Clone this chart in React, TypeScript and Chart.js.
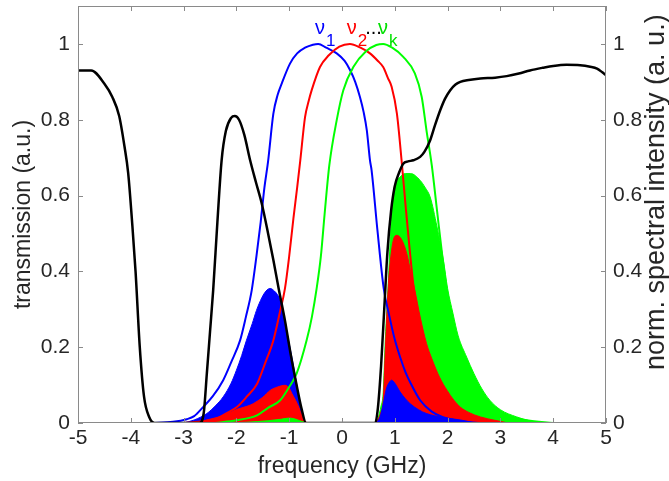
import React, { useEffect, useRef } from 'react';
import { Chart, registerables } from 'chart.js';

Chart.register(...registerables);

// ---------- tick labels ----------
const xTicks = [-5, -4, -3, -2, -1, 0, 1, 2, 3, 4, 5];
const yTicks = [0, 0.2, 0.4, 0.6, 0.8, 1];

// ---------- transmission (black) ----------
const transX = [-5.0, -4.75, -4.5, -4.35, -4.22, -4.12, -4.05, -3.97, -3.91, -3.83, -3.75, -3.65, -3.55,
  -2.7, -2.62, -2.56, -2.5, -2.44, -2.36, -2.28, -2.2, -2.1, -2.03, -1.95, -1.85, -1.74, -1.63, -1.52,
  -1.4, -1.3, -1.2, -1.08, -0.97, -0.86, -0.77, -0.68,
  0.63, 0.68, 0.74, 0.8, 0.86, 0.93, 1.0, 1.08, 1.16, 1.25, 1.35, 1.48, 1.56, 1.67, 1.76, 1.86, 1.95,
  2.05, 2.15, 2.24, 2.4, 2.62, 2.9, 3.12, 3.35, 3.56, 3.8, 4.0, 4.25, 4.51, 4.7, 4.83, 4.93, 5.0];
const transY = [0.93, 0.93, 0.895, 0.86, 0.81, 0.73, 0.66, 0.52, 0.4, 0.2, 0.07, 0.015, 0.0,
  0.0, 0.025, 0.13, 0.24, 0.35, 0.53, 0.693, 0.77, 0.805, 0.81, 0.8, 0.76, 0.693, 0.635, 0.579,
  0.5, 0.43, 0.355, 0.27, 0.18, 0.1, 0.04, 0.0,
  0.0, 0.04, 0.15, 0.3, 0.45, 0.56, 0.625, 0.66, 0.684, 0.69, 0.693, 0.702, 0.715, 0.746, 0.785, 0.825, 0.855,
  0.878, 0.893, 0.9, 0.905, 0.909, 0.911, 0.915, 0.922, 0.93, 0.937, 0.942, 0.945, 0.944, 0.94, 0.935, 0.925, 0.917];

// ---------- filter curves ----------
const nu1X = [-3.6, -3.2, -2.94, -2.8, -2.63, -2.45, -2.25, -2.1, -1.93, -1.82, -1.71, -1.62, -1.54, -1.47, -1.4,
  -1.3, -1.22, -1.14, -0.985, -0.85, -0.7, -0.55, -0.45, -0.3, -0.1, 0.05, 0.152, 0.25, 0.34, 0.41, 0.47, 0.53,
  0.56, 0.67, 0.79, 0.9, 1.0, 1.1, 1.2, 1.3, 1.48, 1.7, 1.9, 2.2, 2.6];
const nu1Y = [0.0, 0.003, 0.01, 0.018, 0.042, 0.07, 0.113, 0.16, 0.218, 0.28, 0.35, 0.44, 0.53, 0.62, 0.69,
  0.816, 0.865, 0.896, 0.948, 0.975, 0.99, 0.998, 1.0, 0.99, 0.975, 0.955, 0.931, 0.9, 0.86, 0.82, 0.772, 0.693,
  0.667, 0.51, 0.355, 0.28, 0.22, 0.174, 0.135, 0.105, 0.06, 0.03, 0.016, 0.005, 0.0];

const nu2X = [-3.0, -2.6, -2.4, -2.2, -1.99, -1.8, -1.61, -1.45, -1.3, -1.18, -1.08, -1.0, -0.92, -0.85, -0.79,
  -0.7, -0.63, -0.574, -0.417, -0.25, -0.05, 0.15, 0.35, 0.53, 0.68, 0.78, 0.87, 0.94, 1.04, 1.13, 1.2, 1.28,
  1.36, 1.48, 1.6, 1.75, 1.92, 2.1, 2.3, 2.6, 3.0];
const nu2Y = [0.0, 0.005, 0.01, 0.025, 0.042, 0.07, 0.103, 0.16, 0.218, 0.29, 0.355, 0.44, 0.54, 0.62, 0.693,
  0.807, 0.85, 0.878, 0.939, 0.97, 0.993, 1.0, 0.99, 0.975, 0.955, 0.939, 0.91, 0.887, 0.816, 0.69, 0.58, 0.46,
  0.355, 0.26, 0.174, 0.11, 0.06, 0.035, 0.016, 0.006, 0.0];

const nuKX = [-2.4, -2.0, -1.61, -1.4, -1.17, -1.0, -0.86, -0.67, -0.57, -0.48, -0.4, -0.33, -0.24, -0.1, 0.025,
  0.214, 0.45, 0.65, 0.78, 0.95, 1.16, 1.38, 1.51, 1.6, 1.7, 1.8, 1.9, 1.98, 2.07, 2.17, 2.36, 2.5, 2.67,
  2.9, 3.11, 3.5, 4.0];
const nuKY = [0.0, 0.007, 0.02, 0.04, 0.06, 0.095, 0.13, 0.218, 0.28, 0.355, 0.44, 0.55, 0.68, 0.799, 0.878,
  0.939, 0.98, 0.997, 1.0, 0.99, 0.966, 0.922, 0.86, 0.772, 0.68, 0.56, 0.44, 0.355, 0.28, 0.218, 0.13, 0.09, 0.06,
  0.035, 0.02, 0.007, 0.0];

// ---------- filled spectra (left group) ----------
const blueLX = [-3.0, -2.8, -2.56, -2.4, -2.25, -2.1, -2.0, -1.9, -1.81, -1.7, -1.62, -1.52, -1.44, -1.36, -1.28,
  -1.22, -1.17, -1.1, -1.05, -0.95, -0.86, -0.79, -0.73, -0.7];
const blueLY = [0.0, 0.008, 0.025, 0.045, 0.069, 0.105, 0.139, 0.178, 0.218, 0.262, 0.297, 0.33, 0.348, 0.355, 0.348,
  0.338, 0.324, 0.285, 0.245, 0.174, 0.104, 0.045, 0.01, 0.0];
const redLX = [-2.9, -2.7, -2.5, -2.2, -1.99, -1.8, -1.68, -1.5, -1.36, -1.22, -1.08, -1.0, -0.95, -0.88, -0.82,
  -0.76, -0.7, -0.65];
const redLY = [0.0, 0.004, 0.01, 0.022, 0.036, 0.044, 0.051, 0.068, 0.086, 0.095, 0.0995, 0.092, 0.078, 0.06, 0.042,
  0.02, 0.005, 0.0];
const greenLX = [-2.2, -1.8, -1.4, -1.15, -1.0, -0.9, -0.8, -0.7, -0.6];
const greenLY = [0.0, 0.002, 0.006, 0.01, 0.013, 0.011, 0.006, 0.002, 0.0];

// ---------- filled spectra (right group) ----------
const blueRX = [0.62, 0.68, 0.72, 0.78, 0.84, 0.9, 0.94, 1.0, 1.1, 1.2, 1.29, 1.45, 1.6, 1.9, 2.24, 2.53];
const blueRY = [0.0, 0.006, 0.016, 0.05, 0.09, 0.108, 0.113, 0.105, 0.082, 0.064, 0.051, 0.035, 0.025, 0.015, 0.008, 0.0];
const redRX = [0.62, 0.68, 0.74, 0.78, 0.82, 0.88, 0.94, 0.99, 1.04, 1.1, 1.16, 1.23, 1.3, 1.38, 1.48, 1.6, 1.7,
  1.85, 1.99, 2.12, 2.24, 2.4, 2.62, 2.9, 3.15];
const redRY = [0.0, 0.01, 0.03, 0.06, 0.19, 0.368, 0.456, 0.49, 0.495, 0.49, 0.475, 0.445, 0.4, 0.35, 0.28, 0.21, 0.17,
  0.12, 0.086, 0.06, 0.042, 0.028, 0.016, 0.007, 0.0];
const greenRX = [0.62, 0.68, 0.74, 0.78, 0.82, 0.85, 0.88, 0.91, 0.97, 1.03, 1.1, 1.2, 1.3, 1.48, 1.58, 1.67, 1.8,
  1.92, 2.0, 2.1, 2.2, 2.36, 2.5, 2.65, 2.8, 3.0, 3.31, 3.55, 3.75];
const greenRY = [0.0, 0.012, 0.045, 0.08, 0.22, 0.3, 0.38, 0.473, 0.605, 0.635, 0.649, 0.658, 0.658, 0.64, 0.62, 0.596, 0.517,
  0.43, 0.355, 0.29, 0.23, 0.174, 0.13, 0.09, 0.06, 0.035, 0.016, 0.006, 0.0];

// ---------- annotations ----------
const nuNames = ['\u03BD', '\u03BD', '\u03BD'];
const nuSubs = ['1', '2', 'k'];
const nuX = [-0.51, 0.09, 0.684];
const nuY = 1.027;
const nuColors = ['#0000ff', '#ff0000', '#00e000'];
const dotsX = 0.44;

const FONT = "'Liberation Sans', Arial, Helvetica, sans-serif";
const TEXT = '#262626';
const AXIS = '#8a8a8a';

const pts = (xs: number[], ys: number[]) => xs.map((x, i) => ({ x, y: ys[i] }));

const lineDs = (label: string, xs: number[], ys: number[], color: string, width: number, order: number) => ({
  type: 'line', label, data: pts(xs, ys), borderColor: color, borderWidth: width, pointRadius: 0,
  fill: false, cubicInterpolationMode: 'monotone', order, yAxisID: 'y',
});
const fillDs = (label: string, xs: number[], ys: number[], color: string, order: number) => ({
  type: 'line', label, data: pts(xs, ys), borderColor: color, backgroundColor: color, borderWidth: 1,
  pointRadius: 0, fill: 'origin', cubicInterpolationMode: 'monotone', order, yAxisID: 'y2',
});

const zeroPad = (s: any) => { s.paddingTop = 0; s.paddingBottom = 0; s.paddingLeft = 0; s.paddingRight = 0; };

const boxPlugin = {
  id: 'boxTicks',
  afterDatasetsDraw(chart: any) {
    const { ctx, chartArea } = chart;
    const { left, right, top, bottom } = chartArea;
    const xs = chart.scales.x;
    const ys = chart.scales.y;
    ctx.save();
    ctx.strokeStyle = AXIS;
    ctx.lineWidth = 1;
    ctx.strokeRect(left + 0.5, top + 0.5, right - left - 1, bottom - top - 1);
    ctx.beginPath();
    xTicks.forEach((v) => {
      const px = Math.round(xs.getPixelForValue(v)) + 0.5;
      ctx.moveTo(px, bottom); ctx.lineTo(px, bottom - 5);
      ctx.moveTo(px, top); ctx.lineTo(px, top + 5);
    });
    yTicks.forEach((v) => {
      const py = Math.round(ys.getPixelForValue(v)) + 0.5;
      ctx.moveTo(left, py); ctx.lineTo(left + 5, py);
      ctx.moveTo(right, py); ctx.lineTo(right - 5, py);
    });
    ctx.stroke();
    ctx.restore();
  },
  afterDraw(chart: any) {
    const { ctx, chartArea } = chart;
    const xs = chart.scales.x;
    const ys = chart.scales.y;
    ctx.save();
    ctx.textBaseline = 'alphabetic';
    ctx.textAlign = 'left';
    nuX.forEach((v, i) => {
      const px = xs.getPixelForValue(v);
      const py = ys.getPixelForValue(nuY);
      ctx.fillStyle = nuColors[i];
      ctx.font = `20px ${FONT}`;
      ctx.fillText(nuNames[i], px, py);
      const w = ctx.measureText(nuNames[i]).width;
      ctx.font = `17px ${FONT}`;
      ctx.fillText(nuSubs[i], px + w + 1, py + 12);
    });
    ctx.fillStyle = '#000';
    ctx.font = `20px ${FONT}`;
    ctx.fillText('...', xs.getPixelForValue(dotsX), ys.getPixelForValue(nuY));
    ctx.fillStyle = TEXT;
    ctx.font = `27px ${FONT}`;
    ctx.translate(chartArea.right + 51, 370);
    ctx.rotate(-Math.PI / 2);
    ctx.textBaseline = 'middle';
    ctx.fillText('norm. spectral intensity (a. u.)', 0, 0);
    ctx.restore();
  },
};

export default function App() {
  const ref = useRef<HTMLCanvasElement | null>(null);
  useEffect(() => {
    if (!ref.current) return;
    const tickFont = { family: FONT, size: 21 };
    const titleFont = { family: FONT, size: 23 };
    const chart = new Chart(ref.current, {
      type: 'line',
      data: {
        datasets: [
          lineDs('transmission', transX, transY, '#000000', 2.5, 0),
          lineDs('nu1', nu1X, nu1Y, '#0000ff', 2, 3),
          lineDs('nu2', nu2X, nu2Y, '#ff0000', 2, 2),
          lineDs('nuk', nuKX, nuKY, '#00ff00', 2, 1),
          fillDs('blue right', blueRX, blueRY, '#0000ff', 10),
          fillDs('red right', redRX, redRY, '#ff0000', 11),
          fillDs('green right', greenRX, greenRY, '#00ff00', 12),
          fillDs('green left', greenLX, greenLY, '#00ff00', 10),
          fillDs('red left', redLX, redLY, '#ff0000', 11),
          fillDs('blue left', blueLX, blueLY, '#0000ff', 12),
        ] as any,
      },
      options: {
        animation: false,
        responsive: false,
        devicePixelRatio: 1,
        layout: { padding: { top: 6, left: 0, right: 0, bottom: 0 } },
        plugins: { legend: { display: false }, tooltip: { enabled: false } },
        scales: {
          x: {
            type: 'linear', min: -5, max: 5,
            afterBuildTicks: (s: any) => { s.ticks = xTicks.map((v) => ({ value: v })); },
            afterFit: (s: any) => { s.height = 58; zeroPad(s); },
            ticks: { font: tickFont, color: TEXT, padding: 3, maxRotation: 0, autoSkip: false, callback: (v: any) => String(v) },
            grid: { display: false, drawTicks: false },
            border: { display: false },
            title: { display: true, text: 'frequency (GHz)', font: titleFont, color: TEXT, padding: { top: 0, bottom: 1 } },
          },
          y: {
            type: 'linear', position: 'left', min: 0, max: 1.1,
            afterBuildTicks: (s: any) => { s.ticks = yTicks.map((v) => ({ value: v })); },
            afterFit: (s: any) => { s.width = 78; zeroPad(s); },
            ticks: { font: tickFont, color: TEXT, padding: 8, callback: (v: any) => String(v) },
            grid: { display: false, drawTicks: false },
            border: { display: false },
            title: { display: true, text: 'transmission (a.u.)', font: titleFont, color: TEXT, padding: { top: 10, bottom: 0 } },
          },
          y2: {
            type: 'linear', position: 'right', min: 0, max: 1.1,
            afterBuildTicks: (s: any) => { s.ticks = yTicks.map((v) => ({ value: v })); },
            afterFit: (s: any) => { s.width = 63; zeroPad(s); },
            ticks: { font: tickFont, color: TEXT, padding: 7, callback: (v: any) => String(v) },
            grid: { display: false, drawTicks: false },
            border: { display: false },
          },
        },
      } as any,
      plugins: [boxPlugin],
    });
    return () => chart.destroy();
  }, []);
  return (
    <div style={{ position: 'absolute', left: 0, top: 0, width: 669, height: 481, background: '#fff' }}>
      <canvas ref={ref} width={669} height={481} style={{ display: 'block' }} />
    </div>
  );
}
